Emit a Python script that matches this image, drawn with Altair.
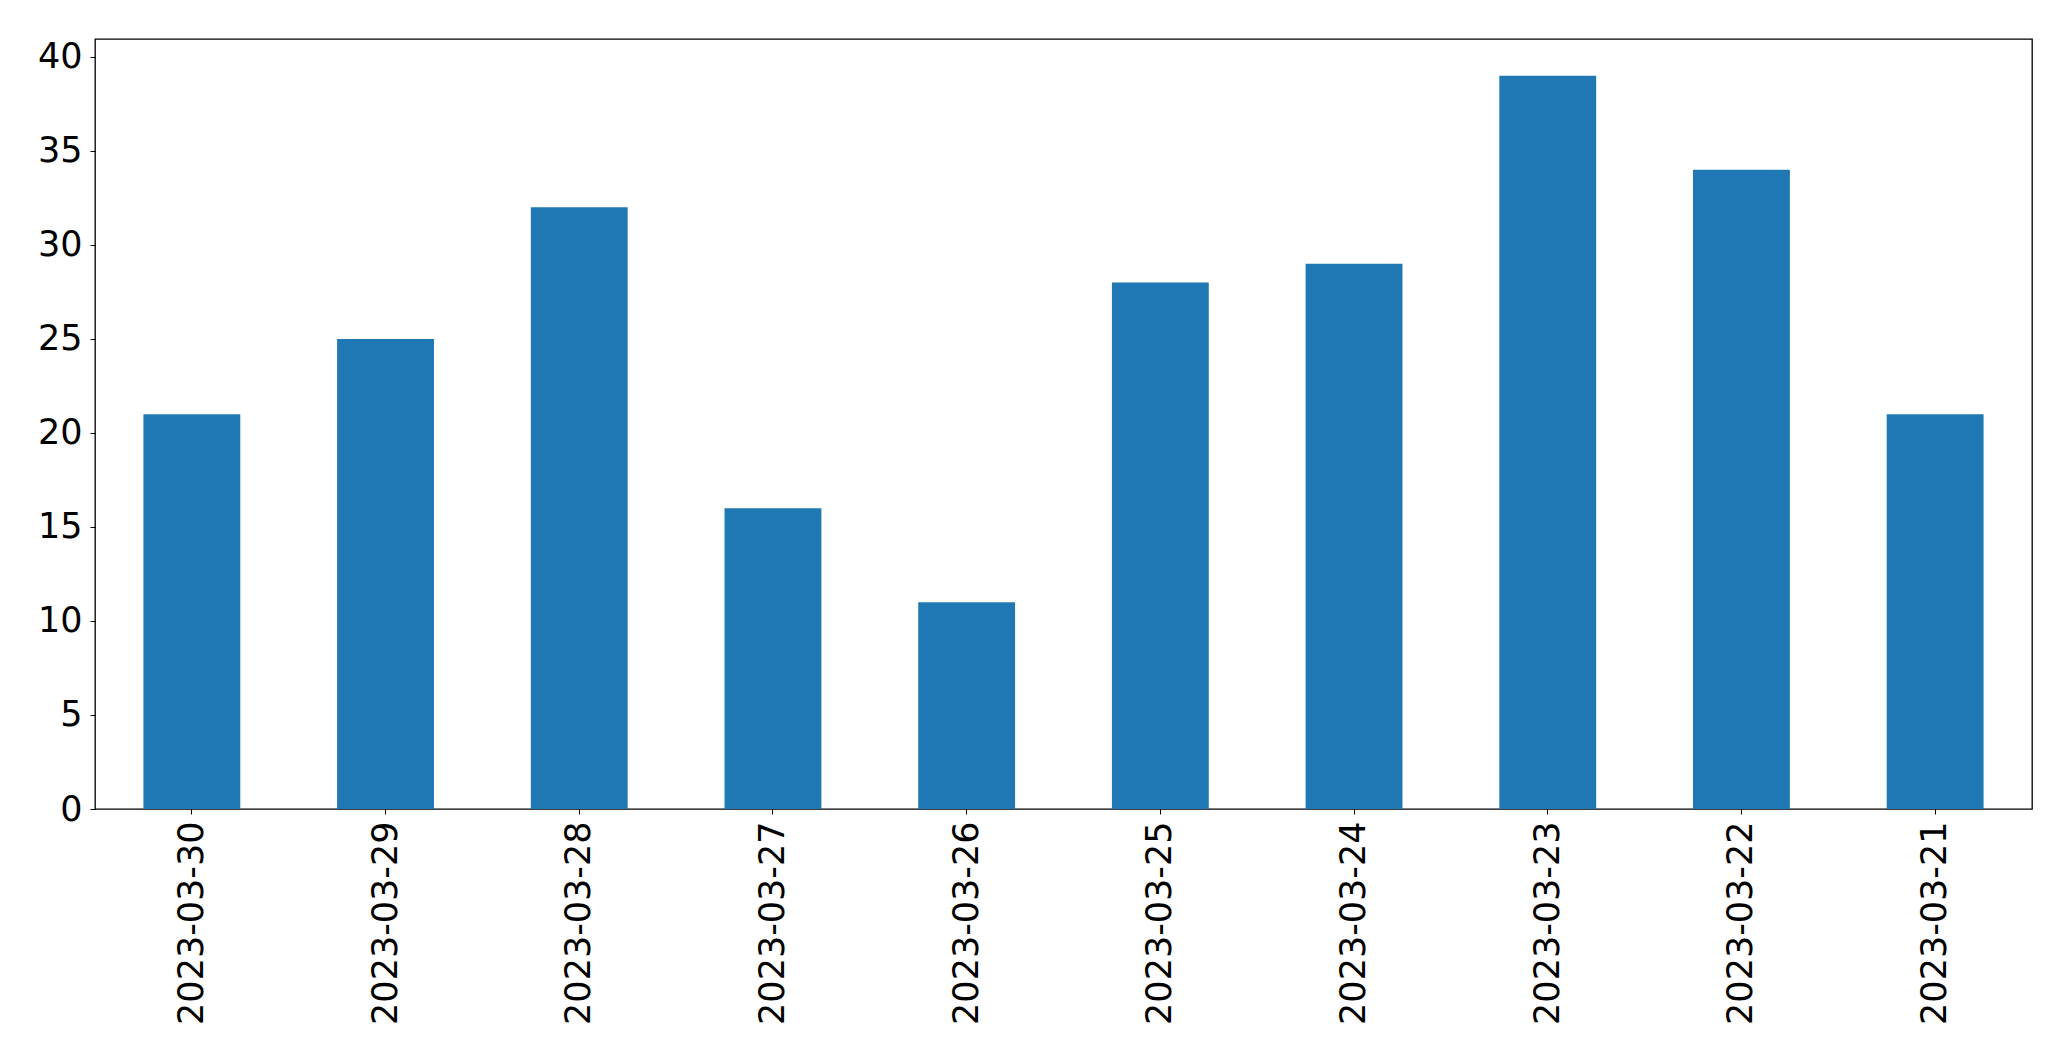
import altair as alt
import pandas as pd

dates = ["2023-03-30", "2023-03-29", "2023-03-28", "2023-03-27", "2023-03-26",
         "2023-03-25", "2023-03-24", "2023-03-23", "2023-03-22", "2023-03-21"]
counts = [21, 25, 32, 16, 11, 28, 29, 39, 34, 21]
y_ticks = [0, 5, 10, 15, 20, 25, 30, 35, 40]

df = pd.DataFrame({"date": dates, "count": counts})

FONT = "DejaVu Sans"

chart = alt.Chart(df).mark_bar(color="#1f77b4").encode(
    x=alt.X("date:N", sort=dates, title=None,
            scale=alt.Scale(paddingInner=0.5, paddingOuter=0.25),
            axis=alt.Axis(labelAngle=270, labelFontSize=35, labelFont=FONT,
                          labelColor="black", tickColor="black", tickSize=5,
                          tickWidth=1, labelPadding=7, domain=False,
                          labelLimit=500,
                          labelAlign="right", labelBaseline="middle")),
    y=alt.Y("count:Q", title=None,
            scale=alt.Scale(domain=[0, 40.95], nice=False, zero=True),
            axis=alt.Axis(values=y_ticks, labelFontSize=35, labelFont=FONT,
                          labelColor="black", tickColor="black", tickSize=5,
                          tickWidth=1, labelPadding=8, grid=False, domain=False)),
).properties(
    width=1937,
    height=770,
    autosize=alt.AutoSizeParams(type="none"),
    padding={"left": 95, "top": 39, "right": 39, "bottom": 252},
).configure(
    background="white"
).configure_view(
    stroke="black", strokeWidth=1.3
)

chart.save("out.html", embed_options={"renderer": "svg", "actions": False})
